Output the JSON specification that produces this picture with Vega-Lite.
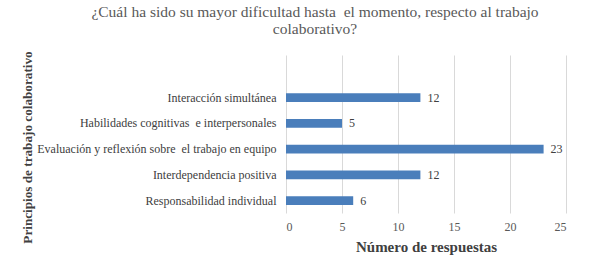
{
  "$schema": "https://vega.github.io/schema/vega-lite/v6.json",
  "width": 280,
  "height": 158,
  "autosize": {"type": "none"},
  "padding": {"left": 286, "top": 55, "right": 23, "bottom": 59},
  "background": "white",
  "config": {"view": {"stroke": null}, "font": "Liberation Serif"},
  "title": {
    "text": ["¿Cuál ha sido su mayor dificultad hasta\u00a0 el momento, respecto al trabajo", "colaborativo?"],
    "font": "Liberation Serif",
    "fontSize": 15.5,
    "fontWeight": "normal",
    "color": "#595959",
    "frame": "group",
    "anchor": "middle",
    "dx": -111,
    "offset": 13,
    "lineHeight": 17
  },
  "data": {
    "values": [
      {"principio": "Interacción simultánea", "respuestas": 12},
      {"principio": "Habilidades cognitivas\u00a0 e interpersonales", "respuestas": 5},
      {"principio": "Evaluación y reflexión sobre\u00a0 el trabajo en equipo", "respuestas": 23},
      {"principio": "Interdependencia positiva", "respuestas": 12},
      {"principio": "Responsabilidad individual", "respuestas": 6}
    ]
  },
  "encoding": {
    "y": {
      "field": "principio",
      "type": "nominal",
      "sort": null,
      "scale": {"paddingInner": 0.662, "paddingOuter": 0.899, "align": 0.827},
      "axis": {
        "title": "Principios de trabajo colaborativo",
        "titleFont": "Liberation Serif",
        "titleFontSize": 13.2,
        "titleFontWeight": "bold",
        "titleColor": "#404040",
        "titleX": -252,
        "titleY": 92,
        "labelFont": "Liberation Serif",
        "labelFontSize": 12,
        "labelColor": "#404040",
        "labelPadding": 10,
        "labelLimit": 300,
        "ticks": false,
        "domain": false
      }
    },
    "x": {
      "field": "respuestas",
      "type": "quantitative",
      "scale": {"domain": [0, 25], "nice": false},
      "axis": {
        "values": [0, 5, 10, 15, 20, 25],
        "grid": true,
        "gridColor": "#d9d9d9",
        "gridWidth": 1,
        "domain": false,
        "ticks": false,
        "labelFont": "Liberation Serif",
        "labelFontSize": 12,
        "labelColor": "#595959",
        "labelPadding": 8,
        "title": "Número de respuestas",
        "titleFont": "Liberation Serif",
        "titleFontSize": 15,
        "titleFontWeight": "bold",
        "titleColor": "#404040",
        "titlePadding": 7
      }
    }
  },
  "layer": [
    {"mark": {"type": "bar", "color": "#4a7ebb"}},
    {
      "mark": {"type": "text", "align": "left", "baseline": "middle", "dx": 7, "fontSize": 12, "font": "Liberation Serif", "color": "#404040"},
      "encoding": {"text": {"field": "respuestas", "type": "quantitative"}}
    }
  ]
}
